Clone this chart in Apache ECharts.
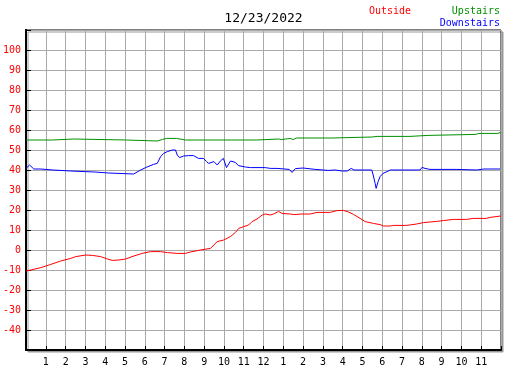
<!DOCTYPE html>
<html>
<head>
<meta charset="utf-8">
<script src="https://cdn.jsdelivr.net/npm/echarts@6/dist/echarts.min.js"></script>
<style>
html, body { margin: 0; padding: 0; background: #fff; }
#chart { width: 527px; height: 370px; }
</style>
</head>
<body>
<div id="chart"></div>
<script>
var chartDate = '12/23/2022';

// x axis: hours of the day, labels in 12h clock
var hourLabels = ['', '1', '2', '3', '4', '5', '6', '7', '8', '9', '10', '11',
                  '12', '1', '2', '3', '4', '5', '6', '7', '8', '9', '10', '11', ''];
var yTickLabels = [-40, -30, -20, -10, 0, 10, 20, 30, 40, 50, 60, 70, 80, 90, 100];

// [hour, temperature]
var outside = [
    [0, -10.5], [0.24, -10], [0.75, -8.8], [1.25, -7.2], [1.75, -5.5], [2.26, -4.2],
    [2.51, -3.3], [3.02, -2.5], [3.35, -2.7], [3.77, -3.3], [4.11, -4.5], [4.36, -5.2],
    [4.69, -5], [5.03, -4.5], [5.45, -3], [5.87, -1.7], [6.29, -0.8], [6.8, -0.8],
    [7.14, -1.3], [7.64, -1.7], [8.06, -1.7], [8.31, -1], [8.81, 0], [9.32, 0.8],
    [9.4, 1.7], [9.66, 4.2], [9.99, 5], [10.33, 6.7], [10.58, 8.8], [10.75, 10.8],
    [11.0, 11.7], [11.25, 12.5], [11.42, 14.2], [11.67, 15.5], [11.93, 17.5], [12.09, 18],
    [12.34, 17.5], [12.51, 18], [12.76, 19.3], [12.93, 18.3], [13.35, 18], [13.52, 17.7],
    [13.94, 18], [14.36, 18], [14.7, 18.8], [15.37, 18.8], [15.71, 19.7], [16.04, 19.8],
    [16.29, 19], [16.55, 17.8], [16.88, 15.8], [17.14, 14.2], [17.55, 13.3], [17.89, 12.7],
    [18.06, 12], [18.4, 12], [18.56, 12.3], [19.24, 12.3], [19.74, 13], [20.08, 13.7],
    [20.75, 14.3], [21.08, 14.7], [21.59, 15.3], [22.26, 15.3], [22.6, 15.8], [23.27, 15.8],
    [23.44, 16.3], [23.99, 17]
];

var upstairs = [
    [0, 55], [1.34, 55], [1.35, 55.5], [2.41, 55.5], [2.46, 55], [5.08, 55],
    [5.13, 54.5], [6.63, 54.5], [6.9, 55.3], [7.1, 55.8], [7.6, 55.8], [8.06, 55],
    [11.67, 55], [11.74, 55.5], [12.75, 55.5], [12.9, 55.2], [13.0, 55.8], [13.35, 55.8],
    [13.5, 55.2], [13.66, 56], [15.46, 56], [15.52, 56.5], [17.49, 56.5], [17.59, 56],
    [17.74, 56.8], [19.4, 56.8], [19.45, 57.3], [20.31, 57.3], [20.36, 57.8], [22.73, 57.8],
    [22.81, 57.4], [22.88, 58.3], [23.84, 58.3], [23.99, 58.8]
];

var downstairs = [
    [0, 40.8], [0.18, 42.5], [0.39, 40.5], [0.75, 40.5], [0.8, 40], [1.35, 40],
    [1.4, 39.5], [2.26, 39.5], [2.31, 39], [3.47, 39], [3.52, 38.5], [4.18, 38.5],
    [4.23, 38], [5.44, 38], [5.54, 37.2], [5.79, 40], [6.04, 41.2], [6.44, 42.8],
    [6.63, 43.3], [6.8, 46.7], [6.95, 48.3], [7.14, 49.2], [7.39, 50], [7.55, 50],
    [7.64, 47.5], [7.76, 46.2], [7.96, 47], [8.21, 47.2], [8.46, 47.2], [8.71, 45.8],
    [8.97, 45.8], [9.12, 44.2], [9.23, 43.3], [9.49, 44.2], [9.66, 42.5], [9.82, 44.5],
    [9.97, 45.8], [10.13, 41.2], [10.33, 44.5], [10.58, 43.8], [10.73, 42.2], [11.08, 41.5],
    [11.34, 41.2], [12.09, 41.2], [12.34, 40.8], [12.68, 40.8], [12.7, 40.3], [13.3, 40.3],
    [13.44, 38.8], [13.61, 40.7], [14.0, 41], [14.1, 40.3], [14.61, 40.3], [14.66, 39.8],
    [15.27, 39.8], [15.37, 40.8], [15.62, 40], [15.98, 39.5], [16.23, 39.5], [16.43, 40.8],
    [16.58, 40], [17.47, 40], [17.54, 37.5], [17.64, 33.3], [17.69, 30.8], [17.79, 34.2],
    [17.89, 36.7], [18.04, 38.3], [18.24, 39.2], [18.4, 40], [19.91, 40], [20.01, 41.3],
    [20.16, 40.8], [20.41, 40.3], [21.77, 40.3], [21.82, 40], [22.78, 40], [22.83, 40.5],
    [23.14, 40.5], [23.19, 40], [23.29, 40.5], [23.95, 40.5]
];

var seriesNames = ['Outside', 'Upstairs', 'Downstairs'];
var seriesColors = ['#ff0000', '#009000', '#0000ff'];

var mono = 'DejaVu Sans Mono';
var myChart = echarts.init(document.getElementById('chart'));

function lineSeries(name, color, data) {
    return {
        name: name,
        type: 'line',
        data: data,
        showSymbol: false,
        symbol: 'none',
        animation: false,
        lineStyle: { color: color, width: 1 },
        z: 3
    };
}

var option = {
    backgroundColor: '#fff',
    animation: false,
    grid: {
        left: 25, right: 26, top: 30, bottom: 20,
        show: true,
        backgroundColor: '#fff',
        borderColor: '#000',
        borderWidth: 1,
        shadowColor: '#999',
        shadowOffsetX: 2,
        shadowOffsetY: 2,
        shadowBlur: 0
    },
    graphic: [
        { type: 'text', left: 'center', top: 12, style: { text: chartDate, font: '13px ' + mono, fill: '#000' } },
        { type: 'text', left: 369, top: 6, style: { text: seriesNames[0], font: '10px ' + mono, fill: seriesColors[0] } },
        { type: 'text', right: 27, top: 6, style: { text: seriesNames[1], font: '10px ' + mono, fill: seriesColors[1] } },
        { type: 'text', right: 27, top: 18, style: { text: seriesNames[2], font: '10px ' + mono, fill: seriesColors[2] } }
    ],
    xAxis: {
        type: 'value',
        min: 0,
        max: 24,
        interval: 1,
        axisLine: { show: true, onZero: false, lineStyle: { color: '#000', width: 2 } },
        axisTick: { show: true, inside: true, length: 4, lineStyle: { color: '#000' } },
        axisLabel: {
            color: '#000',
            fontFamily: mono,
            fontSize: 10,
            margin: 7,
            formatter: function (v) { return hourLabels[Math.round(v)] || ''; }
        },
        splitLine: { show: true, lineStyle: { color: '#aaa', width: 1 } }
    },
    yAxis: [{
        type: 'value',
        min: -50,
        max: 110,
        interval: 10,
        axisLine: { show: true, onZero: false, lineStyle: { color: '#000', width: 2 } },
        axisTick: { show: true, inside: true, length: 5, lineStyle: { color: '#000' } },
        axisLabel: {
            color: '#ff0000',
            fontFamily: mono,
            fontSize: 10,
            margin: 5,
            formatter: function (v) { return yTickLabels.indexOf(v) >= 0 ? String(v) : ''; }
        },
        splitLine: { show: true, lineStyle: { color: '#aaa', width: 1 } }
    }, {
        type: 'value',
        position: 'right',
        min: -50,
        max: 110,
        interval: 10,
        axisLine: { show: true, lineStyle: { color: '#000', width: 2 } },
        axisTick: { show: false },
        axisLabel: { show: false },
        splitLine: { show: false }
    }],
    series: [
        lineSeries(seriesNames[0], seriesColors[0], outside),
        lineSeries(seriesNames[1], seriesColors[1], upstairs),
        lineSeries(seriesNames[2], seriesColors[2], downstairs)
    ]
};

myChart.setOption(option);
</script>
</body>
</html>
